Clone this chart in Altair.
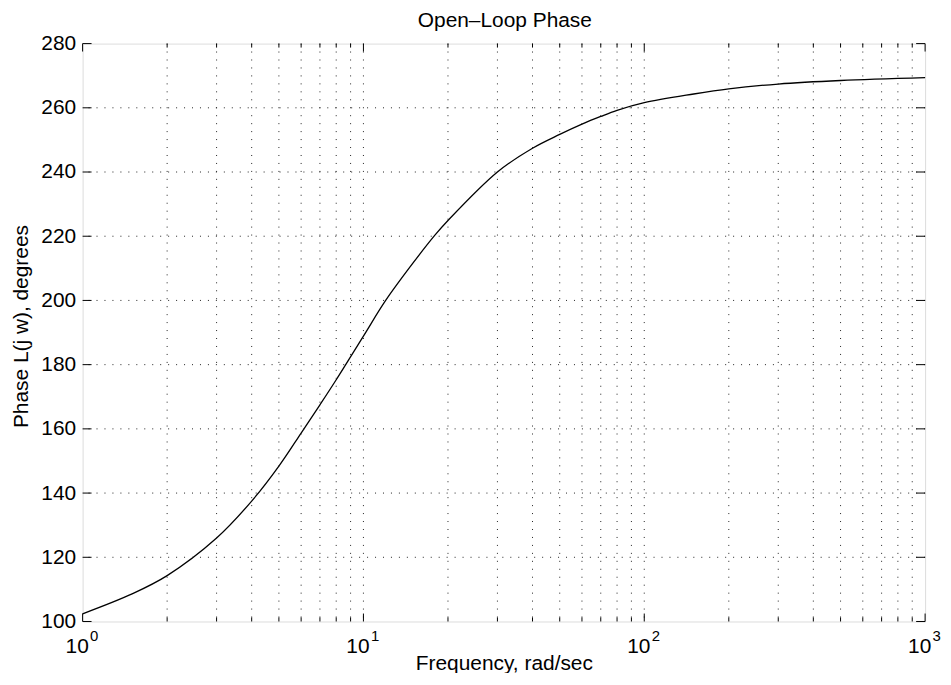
import altair as alt
import pandas as pd

# ---- data ----
freq = [1, 1.5, 2, 3, 4, 5, 6, 7, 8, 10, 12, 15, 18, 20, 30, 40, 50, 60, 70, 80,
        100, 150, 200, 300, 500, 1000]
phase = [102.4, 108.6, 114.3, 126.0, 137.5, 148.4, 158.7, 167.5, 175.3, 188.9,
         200.0, 211.6, 220.4, 224.9, 240.0, 247.4, 251.7, 254.9, 257.3, 259.2,
         261.6, 264.3, 265.9, 267.4, 268.5, 269.4]

title_text = ["Open–Loop Phase"]
x_major = [1, 10, 100, 1000]
x_exponents = ["0", "1", "2", "3"]
x_minor = [m * d for d in [1, 10, 100] for m in range(2, 10)]
x_grid = x_minor + [10, 100]
y_ticks = [100, 120, 140, 160, 180, 200, 220, 240, 260, 280]
y_grid = [120, 140, 160, 180, 200, 220, 240, 260]

W, H = 847, 581
FONT = "Liberation Sans"

xscale = alt.Scale(type="log", domain=[1, 1000], nice=False)
yscale = alt.Scale(domain=[100, 280], nice=False)

x_axis = alt.Axis(values=x_major, labelExpr="'10'", grid=False,
                  ticks=False, domain=False, labelFont=FONT,
                  labelFontSize=21, labelColor="black",
                  labelPadding=14, labelOffset=-6, labelFlush=False,
                  labelOverlap=False, titleFont=FONT, titleFontSize=21,
                  titleFontWeight="normal", titleColor="black",
                  titleBaseline="alphabetic", titleY=48)
y_axis = alt.Axis(values=y_ticks, grid=False, ticks=False,
                  domain=False, labelFont=FONT, labelFontSize=21,
                  labelColor="black", labelPadding=7,
                  labelFlush=False, labelOverlap=False,
                  titleFont=FONT, titleFontSize=21,
                  titleFontWeight="normal", titleColor="black",
                  titleAngle=270, titleBaseline="bottom",
                  titleAlign="center", titleX=-51, titleY=284)

X = alt.X("w:Q", scale=xscale, title="Frequency, rad/sec", axis=x_axis)
Y = alt.Y("deg:Q", scale=yscale, title="Phase L(j w), degrees", axis=y_axis)

curve_df = pd.DataFrame({"w": freq, "deg": phase})
xgrid_df = pd.DataFrame({"w": x_grid})
ygrid_df = pd.DataFrame({"deg": y_grid})
xmajor_df = pd.DataFrame({"w": x_major, "e": x_exponents})
xminor_df = pd.DataFrame({"w": x_minor})
yticks_df = pd.DataFrame({"deg": y_ticks})
title_df = pd.DataFrame({"t": title_text})

dot = dict(color="#222222", strokeDash=[1, 7], strokeWidth=1)

line = alt.Chart(curve_df).mark_line(color="black", strokeWidth=1.3,
                                     interpolate="catmull-rom").encode(x=X, y=Y)

gx = alt.Chart(xgrid_df).mark_rule(**dot).encode(x=X)
gy = alt.Chart(ygrid_df).mark_rule(**dot).encode(y=Y)

tick_style = dict(color="black", strokeWidth=1)
tx_maj_b = alt.Chart(xmajor_df).mark_rule(**tick_style).encode(
    x=X, y=alt.value(H), y2=alt.value(H - 8))
tx_maj_t = alt.Chart(xmajor_df).mark_rule(**tick_style).encode(
    x=X, y=alt.value(0), y2=alt.value(8))
tx_min_b = alt.Chart(xminor_df).mark_rule(**tick_style).encode(
    x=X, y=alt.value(H), y2=alt.value(H - 4))
tx_min_t = alt.Chart(xminor_df).mark_rule(**tick_style).encode(
    x=X, y=alt.value(0), y2=alt.value(4))
ty_l = alt.Chart(yticks_df).mark_rule(**tick_style).encode(
    y=Y, x=alt.value(0), x2=alt.value(9))
ty_r = alt.Chart(yticks_df).mark_rule(**tick_style).encode(
    y=Y, x=alt.value(W), x2=alt.value(W - 9))

exps = alt.Chart(xmajor_df).mark_text(
    align="left", baseline="alphabetic", fontSize=15, font=FONT,
    color="black", dx=7.5).encode(x=X, y=alt.value(601), text="e:N")

title = alt.Chart(title_df).mark_text(
    align="center", baseline="alphabetic", fontSize=21, font=FONT,
    color="black").encode(x=alt.value(W / 2 + 1), y=alt.value(-17), text="t:N")

chart = alt.layer(
    line, gx, gy, tx_maj_b, tx_maj_t, tx_min_b, tx_min_t, ty_l, ty_r, exps, title
).properties(
    width=W, height=H,
    autosize=alt.AutoSizeParams(type="none"),
    padding={"left": 75, "top": 34, "right": 18, "bottom": 50},
).configure_view(stroke="black", strokeWidth=1.5).configure(background="white")

chart.save("out.html", embed_options={"renderer": "svg", "actions": False})
